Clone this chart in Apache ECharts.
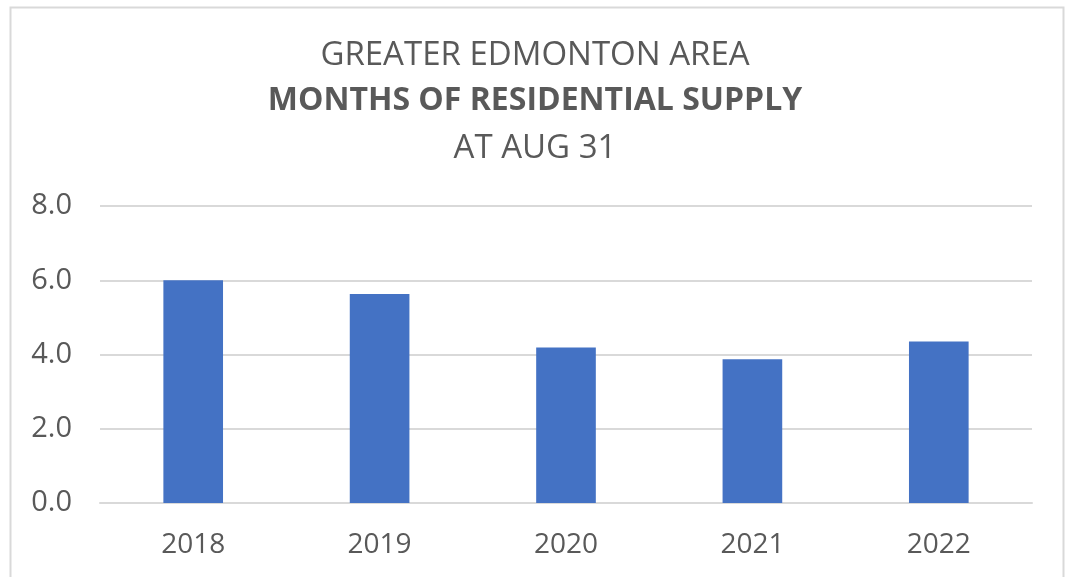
<!DOCTYPE html>
<html><head><meta charset="utf-8">
<script src="https://cdn.jsdelivr.net/npm/echarts@6/dist/echarts.min.js"></script>
<style>html,body{margin:0;padding:0;background:#fff}#c{width:1070px;height:577px}</style>
</head><body><div id="c"></div>
<script>
const categories = ['2018','2019','2020','2021','2022'];
const supplyValues = [6.0, 5.63, 4.19, 3.87, 4.35];
const yTicks = [0, 2, 4, 6, 8];

const chart = echarts.init(document.getElementById('c'));
const font = 'Open Sans, Noto Sans, sans-serif';
chart.setOption({
  backgroundColor: '#fff',
  animation: false,
  graphic: [{type:'rect', shape:{x:10.5,y:7.5,width:1053,height:600}, style:{fill:'#fff', stroke:'#d9d9d9', lineWidth:2}, z:-10}],
  title: [
    {text:'GREATER EDMONTON AREA', left:'center', top:34, textStyle:{fontFamily:font, fontWeight:'normal', fontSize:33, color:'#595959'}},
    {text:'MONTHS OF RESIDENTIAL SUPPLY', left:'center', top:80, textStyle:{fontFamily:font, fontWeight:'bold', fontSize:32, color:'#595959'}},
    {text:'AT AUG 31', left:'center', top:127, textStyle:{fontFamily:font, fontWeight:'normal', fontSize:33, color:'#595959'}}
  ],
  grid: {left:100, right:38, top:206, bottom:74},
  xAxis: {type:'category', data:categories, axisTick:{show:false},
    axisLine:{lineStyle:{color:'#d9d9d9', width:2}},
    axisLabel:{fontFamily:font, fontSize:28, color:'#595959', margin:28}},
  yAxis: {type:'value', min:yTicks[0], max:yTicks[yTicks.length-1], interval:2,
    axisLine:{show:false}, axisTick:{show:false},
    splitLine:{lineStyle:{color:'#d9d9d9', width:2}},
    axisLabel:{fontFamily:font, fontSize:29, color:'#595959', margin:28, formatter:v=>v.toFixed(1)}},
  series: [{type:'bar', data:supplyValues, barWidth:'32%', itemStyle:{color:'#4472c4'}}]
});
</script></body></html>
